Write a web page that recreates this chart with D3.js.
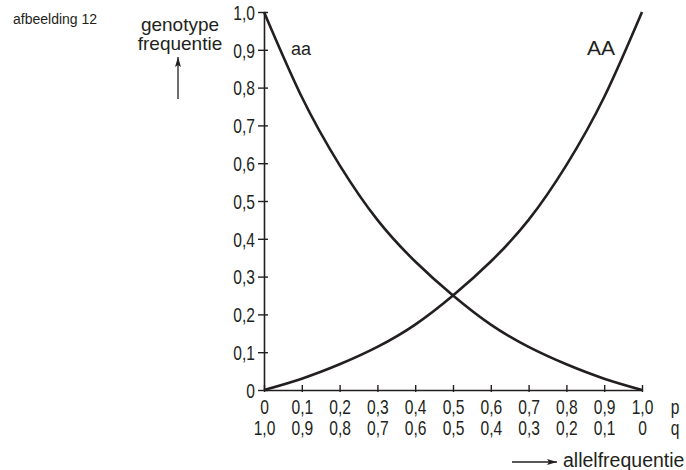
<!DOCTYPE html>
<html>
<head>
<meta charset="utf-8">
<script src="https://cdn.jsdelivr.net/npm/d3@7"></script>
<style>
  body { margin: 0; background: #fff; }
  svg { display: block; }
  .narrow { font-family: "Liberation Sans", Arial, Helvetica, sans-serif; }
  .label { font-family: "Liberation Sans", Arial, Helvetica, sans-serif; }
</style>
</head>
<body>
<div id="chart"></div>
<script>

// Hardy-Weinberg chart: genotype frequency against allele frequency

// Set dimensions and margins
const width = 686;
const height = 470;
const margin = {left: 264, right: 44, top: 12, bottom: 80};
const ink = "#231f20";
const squeeze = 0.78;   // horizontal squeeze for the condensed tick labels

// data
const pValues = [0, 0.1, 0.2, 0.3, 0.4, 0.5, 0.6, 0.7, 0.8, 0.9, 1.0];
const pLabels = ["0", "0,1", "0,2", "0,3", "0,4", "0,5", "0,6", "0,7", "0,8", "0,9", "1,0"];
const qLabels = ["1,0", "0,9", "0,8", "0,7", "0,6", "0,5", "0,4", "0,3", "0,2", "0,1", "0"];
const AAvalues = [0, 0.03, 0.068, 0.114, 0.173, 0.25, 0.34, 0.45, 0.595, 0.775, 1.0];
const aavalues = [1.0, 0.775, 0.595, 0.45, 0.34, 0.25, 0.173, 0.114, 0.068, 0.03, 0];
const yValues = [0, 0.1, 0.2, 0.3, 0.4, 0.5, 0.6, 0.7, 0.8, 0.9, 1.0];
const yLabels = ["0", "0,1", "0,2", "0,3", "0,4", "0,5", "0,6", "0,7", "0,8", "0,9", "1,0"];

const svg = d3.select("#chart")
  .append("svg")
  .attr("width", width)
  .attr("height", height);

// arrow head marker
svg.append("defs").append("marker")
  .attr("id", "head")
  .attr("viewBox", "0 0 10 6")
  .attr("refX", 10)
  .attr("refY", 3)
  .attr("markerWidth", 10)
  .attr("markerHeight", 6)
  .attr("markerUnits", "userSpaceOnUse")
  .attr("orient", "auto")
  .append("path")
  .attr("d", "M0,0 L10,3 L0,6 L2,3 Z")
  .attr("fill", ink);

/*
  Scales
*/
let xScale = d3.scaleLinear()
  .domain([0, 1])
  .range([margin.left, width - margin.right]);

let yScale = d3.scaleLinear()
  .domain([0, 1])
  .range([height - margin.bottom, margin.top]);

/*
  Axes
*/
// y axis, ticks cross the line
const yAxis = svg.append("g")
  .attr("transform", `translate(${margin.left}, 0)`)
  .call(d3.axisLeft(yScale)
          .tickValues(yValues)
          .tickFormat((d, i) => yLabels[i])
          .tickSizeOuter(0)
          .tickSizeInner(6)
          .tickPadding(3));
yAxis.select(".domain").attr("stroke", ink).attr("stroke-width", 1.6);
yAxis.selectAll(".tick line")
  .attr("x1", 4)
  .attr("x2", -6)
  .attr("stroke", ink)
  .attr("stroke-width", 1.4);
yAxis.selectAll(".tick text")
  .attr("class", "narrow")
  .attr("font-size", "20px")
  .attr("fill", ink)
  .attr("x", -9 / squeeze)
  .attr("dy", "0.36em")
  .attr("transform", `scale(${squeeze},1)`);

// x axis with p labels, ticks mostly above the line
const xAxis = svg.append("g")
  .attr("transform", `translate(0, ${height - margin.bottom})`)
  .call(d3.axisBottom(xScale)
          .tickValues(pValues)
          .tickFormat((d, i) => pLabels[i])
          .tickSizeOuter(0)
          .tickSizeInner(2)
          .tickPadding(0));
xAxis.select(".domain").attr("stroke", ink).attr("stroke-width", 1.6);
xAxis.selectAll(".tick line")
  .attr("y1", -5)
  .attr("y2", 2)
  .attr("stroke", ink)
  .attr("stroke-width", 1.4);
xAxis.selectAll(".tick text")
  .attr("class", "narrow")
  .attr("font-size", "20px")
  .attr("fill", ink)
  .attr("y", 24)
  .attr("dy", 0)
  .attr("transform", `scale(${squeeze},1)`);

// second row of labels: q
xAxis.selectAll(".tick")
  .append("text")
  .attr("class", "narrow")
  .attr("font-size", "20px")
  .attr("fill", ink)
  .attr("text-anchor", "middle")
  .attr("y", 45)
  .attr("transform", `scale(${squeeze},1)`)
  .text((d, i) => qLabels[i]);

// p and q row names
svg.append("text")
  .attr("class", "narrow")
  .attr("transform", `translate(675, ${height - margin.bottom + 24}) scale(${squeeze},1)`)
  .attr("text-anchor", "middle")
  .attr("font-size", "20px").attr("fill", ink)
  .text("p");
svg.append("text")
  .attr("class", "narrow")
  .attr("transform", `translate(675, ${height - margin.bottom + 45}) scale(${squeeze},1)`)
  .attr("text-anchor", "middle")
  .attr("font-size", "20px").attr("fill", ink)
  .text("q");

/*
  Curves
*/
const line = d3.line()
  .x((d, i) => xScale(pValues[i]))
  .y(d => yScale(d))
  .curve(d3.curveNatural);

svg.append("path")
  .datum(AAvalues)
  .attr("d", line)
  .attr("fill", "none")
  .attr("stroke", ink)
  .attr("stroke-width", 2.6);

svg.append("path")
  .datum(aavalues)
  .attr("d", line)
  .attr("fill", "none")
  .attr("stroke", ink)
  .attr("stroke-width", 2.6);

// curve names
svg.append("text")
  .attr("class", "label")
  .attr("x", 291).attr("y", 55)
  .attr("font-size", "18px").attr("fill", ink)
  .text("aa");
svg.append("text")
  .attr("class", "label")
  .attr("x", 587).attr("y", 55)
  .attr("font-size", "21px").attr("fill", ink)
  .text("AA");

/*
  Titles and arrows
*/
svg.append("text")
  .attr("class", "label")
  .attr("x", 13).attr("y", 24)
  .attr("font-size", "14px").attr("fill", ink)
  .text("afbeelding 12");

svg.append("text")
  .attr("class", "label")
  .attr("x", 180).attr("y", 31)
  .attr("text-anchor", "middle")
  .attr("font-size", "19px").attr("fill", ink)
  .text("genotype");
svg.append("text")
  .attr("class", "label")
  .attr("x", 180).attr("y", 50)
  .attr("text-anchor", "middle")
  .attr("font-size", "19px").attr("fill", ink)
  .text("frequentie");

svg.append("line")
  .attr("x1", 178).attr("y1", 99)
  .attr("x2", 178).attr("y2", 57)
  .attr("stroke", ink).attr("stroke-width", 1.3)
  .attr("marker-end", "url(#head)");

svg.append("line")
  .attr("x1", 512).attr("y1", 462)
  .attr("x2", 557).attr("y2", 462)
  .attr("stroke", ink).attr("stroke-width", 1.3)
  .attr("marker-end", "url(#head)");

svg.append("text")
  .attr("class", "label")
  .attr("x", 563).attr("y", 467)
  .attr("font-size", "19.5px").attr("fill", ink)
  .text("allelfrequentie");

</script>
</body>
</html>
